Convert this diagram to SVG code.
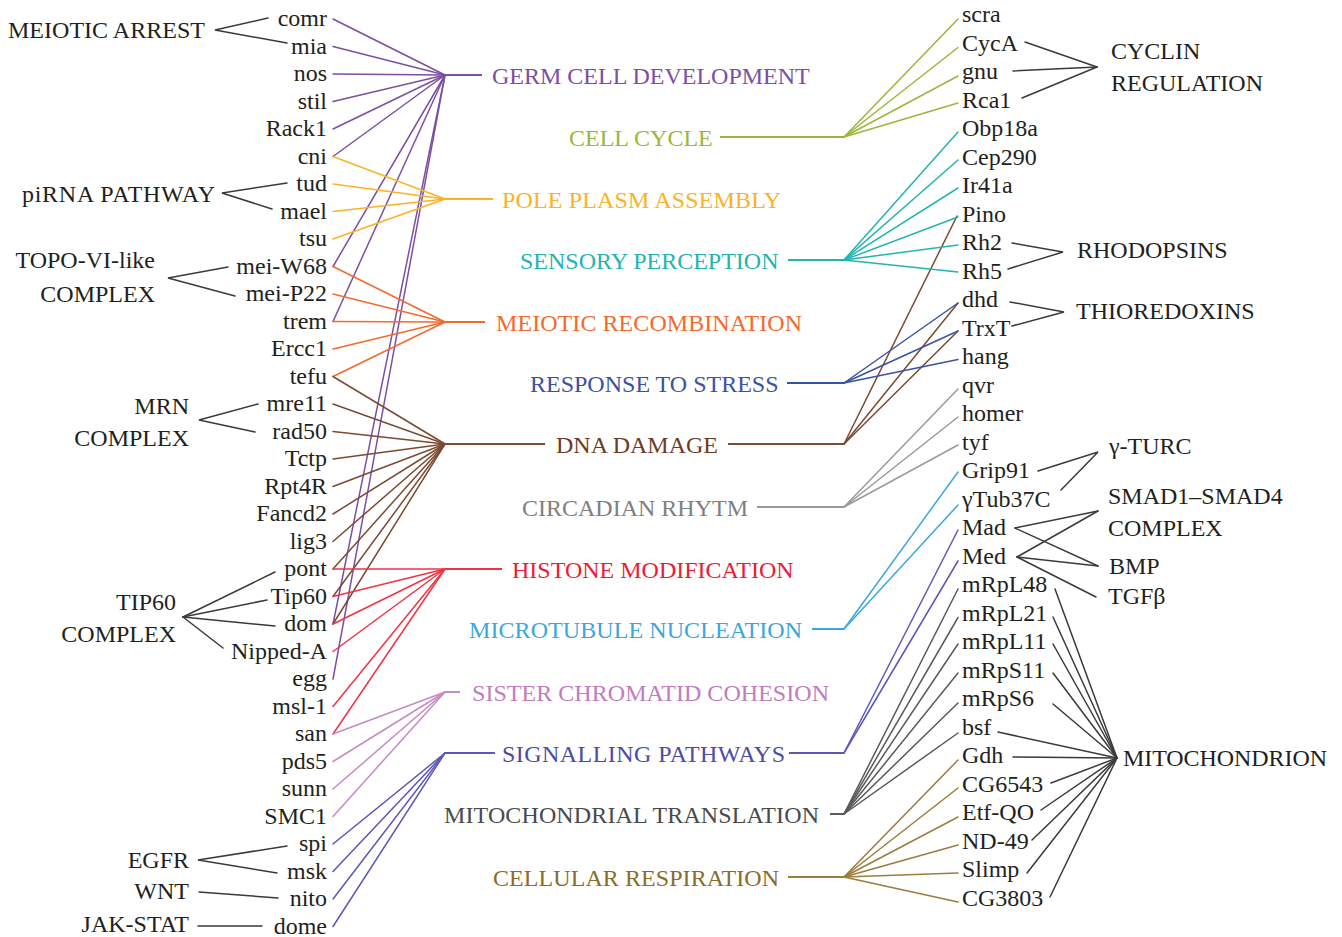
<svg xmlns="http://www.w3.org/2000/svg" width="1342" height="937" viewBox="0 0 1342 937">
<style>
text{font-family:"Liberation Serif","Times New Roman",serif;font-size:24px;fill:#231f20}
.l{fill:none;stroke-width:1.5;stroke-linecap:round}
.h{fill:none;stroke-width:2}
.k{stroke:#3a3a3a}
.gcd{stroke:#7d4ea3}.tgcd{fill:#7d4ea3}
.pol{stroke:#fbb323}.tpol{fill:#fbb323}
.mr{stroke:#f4692c}.tmr{fill:#f4692c}
.dna{stroke:#7b4a32}.tdna{fill:#6e3b23}
.his{stroke:#f03344}.this{fill:#ed1c33}
.scc{stroke:#c48bc4}.tscc{fill:#c07cbe}
.sig{stroke:#5b58b8}.tsig{fill:#4d4ba6}
.cc{stroke:#9ab73b}.tcc{fill:#9ab73b}
.sen{stroke:#23b4b0}.tsen{fill:#23b4b0}
.str{stroke:#3953a4}.tstr{fill:#3953a4}
.cir{stroke:#9a9a9a}.tcir{fill:#808080}
.mic{stroke:#3ba6df}.tmic{fill:#3ba6df}
.mit{stroke:#5a5a5a}.tmit{fill:#4a4a4a}
.res{stroke:#9b7d3c}.tres{fill:#8c6c27}
</style>
<g id="connectors">
<g class="l gcd">
<line x1="333" y1="19" x2="445" y2="75"/><line x1="333" y1="46.5" x2="445" y2="75"/><line x1="333" y1="74" x2="445" y2="75"/><line x1="333" y1="101.5" x2="445" y2="75"/><line x1="333" y1="129" x2="445" y2="75"/><line x1="333" y1="156.5" x2="445" y2="75"/><line x1="333" y1="266.5" x2="445" y2="75"/><line x1="333" y1="321.5" x2="445" y2="75"/><line x1="333" y1="624" x2="445" y2="75"/><line x1="333" y1="679" x2="445" y2="75"/>
</g>
<line class="h gcd" x1="445" y1="75" x2="482" y2="75"/>
<g class="l pol">
<line x1="333" y1="156.5" x2="445" y2="199"/><line x1="333" y1="184" x2="445" y2="199"/><line x1="333" y1="211.5" x2="445" y2="199"/><line x1="333" y1="239" x2="445" y2="199"/>
</g>
<line class="h pol" x1="445" y1="199" x2="493" y2="199"/>
<g class="l mr">
<line x1="333" y1="266.5" x2="445" y2="322"/><line x1="333" y1="294" x2="445" y2="322"/><line x1="333" y1="321.5" x2="445" y2="322"/><line x1="333" y1="349" x2="445" y2="322"/><line x1="333" y1="376.5" x2="445" y2="322"/>
</g>
<line class="h mr" x1="445" y1="322" x2="485" y2="322"/>
<g class="l dna">
<line x1="333" y1="376.5" x2="445" y2="444"/><line x1="333" y1="404" x2="445" y2="444"/><line x1="333" y1="431.5" x2="445" y2="444"/><line x1="333" y1="459" x2="445" y2="444"/><line x1="333" y1="486.5" x2="445" y2="444"/><line x1="333" y1="514" x2="445" y2="444"/><line x1="333" y1="541.5" x2="445" y2="444"/><line x1="333" y1="569" x2="445" y2="444"/><line x1="333" y1="596.5" x2="445" y2="444"/><line x1="333" y1="624" x2="445" y2="444"/>
<line x1="844" y1="444" x2="957" y2="216"/><line x1="844" y1="444" x2="958" y2="303"/><line x1="844" y1="444" x2="958" y2="331"/>
</g>
<line class="h dna" x1="445" y1="444" x2="545" y2="444"/>
<line class="h dna" x1="728" y1="444" x2="844" y2="444"/>
<g class="l his">
<line x1="333" y1="569" x2="445" y2="569"/><line x1="333" y1="596.5" x2="445" y2="569"/><line x1="333" y1="624" x2="445" y2="569"/><line x1="333" y1="651.5" x2="445" y2="569"/><line x1="333" y1="706.5" x2="445" y2="569"/><line x1="333" y1="734" x2="445" y2="569"/>
</g>
<line class="h his" x1="445" y1="569" x2="502" y2="569"/>
<g class="l scc">
<line x1="333" y1="734" x2="445" y2="692"/><line x1="333" y1="761.5" x2="445" y2="692"/><line x1="333" y1="789" x2="445" y2="692"/><line x1="333" y1="816.5" x2="445" y2="692"/>
</g>
<line class="h scc" x1="445" y1="692" x2="460" y2="692"/>
<g class="l sig">
<line x1="333" y1="844" x2="445" y2="753"/><line x1="333" y1="871.5" x2="445" y2="753"/><line x1="333" y1="899" x2="445" y2="753"/><line x1="333" y1="926.5" x2="445" y2="753"/>
<line x1="844" y1="753" x2="958" y2="530"/><line x1="844" y1="753" x2="958" y2="561"/>
</g>
<line class="h sig" x1="445" y1="753" x2="495" y2="753"/>
<line class="h sig" x1="789" y1="753" x2="844" y2="753"/>
<g class="l cc">
<line x1="844" y1="137" x2="958" y2="19"/><line x1="844" y1="137" x2="958" y2="47.5"/><line x1="844" y1="137" x2="958" y2="76"/><line x1="844" y1="137" x2="958" y2="103"/>
</g>
<line class="h cc" x1="720" y1="137" x2="844" y2="137"/>
<g class="l sen">
<line x1="844" y1="260" x2="958" y2="132"/><line x1="844" y1="260" x2="958" y2="160"/><line x1="844" y1="260" x2="958" y2="188"/><line x1="844" y1="260" x2="958" y2="217"/><line x1="844" y1="260" x2="958" y2="245"/><line x1="844" y1="260" x2="958" y2="272"/>
</g>
<line class="h sen" x1="788" y1="260" x2="844" y2="260"/>
<g class="l str">
<line x1="844" y1="383" x2="958" y2="303"/><line x1="844" y1="383" x2="958" y2="331"/><line x1="844" y1="383" x2="958" y2="359.5"/>
</g>
<line class="h str" x1="787" y1="383" x2="844" y2="383"/>
<g class="l cir">
<line x1="844" y1="507" x2="958" y2="389"/><line x1="844" y1="507" x2="958" y2="417"/><line x1="844" y1="507" x2="958" y2="445"/>
</g>
<line class="h cir" x1="757" y1="507" x2="844" y2="507"/>
<g class="l mic">
<line x1="844" y1="629" x2="958" y2="472"/><line x1="844" y1="629" x2="958" y2="505"/>
</g>
<line class="h mic" x1="812" y1="629" x2="844" y2="629"/>
<g class="l mit">
<line x1="844" y1="814" x2="958" y2="589"/><line x1="844" y1="814" x2="958" y2="617.5"/><line x1="844" y1="814" x2="958" y2="644"/><line x1="844" y1="814" x2="958" y2="673"/><line x1="844" y1="814" x2="958" y2="703"/><line x1="844" y1="814" x2="958" y2="733"/>
</g>
<line class="h mit" x1="830" y1="814" x2="844" y2="814"/>
<g class="l res">
<line x1="844" y1="877" x2="958" y2="760"/><line x1="844" y1="877" x2="958" y2="788"/><line x1="844" y1="877" x2="958" y2="817"/><line x1="844" y1="877" x2="958" y2="845"/><line x1="844" y1="877" x2="958" y2="873"/><line x1="844" y1="877" x2="958" y2="902"/>
</g>
<line class="h res" x1="788" y1="877" x2="844" y2="877"/>
<g class="l k">
<polyline points="268,18 215,30 287,43"/>
<polyline points="287,183 222,193 272,209"/>
<polyline points="228,267 168,278 235,296"/>
<polyline points="258,404 199,420 255,432"/>
<line x1="183" y1="617" x2="275" y2="572"/><line x1="183" y1="617" x2="267" y2="600"/><line x1="183" y1="617" x2="275" y2="626"/><line x1="183" y1="617" x2="223" y2="648"/>
<polyline points="287,846 198,860 277,873"/>
<line x1="199" y1="892" x2="278" y2="898"/>
<line x1="198" y1="926" x2="262" y2="926"/>
<line x1="1025" y1="42" x2="1097" y2="67"/><line x1="1013" y1="71" x2="1097" y2="67"/><line x1="1022" y1="98" x2="1097" y2="67"/>
<polyline points="1012,243 1063,252 1008,269"/>
<polyline points="1010,302 1064,312 1012,326"/>
<polyline points="1038,471 1098,452 1061,490"/>
<line x1="1015" y1="528" x2="1098" y2="511"/><line x1="1015" y1="528" x2="1098" y2="566"/>
<line x1="1017" y1="557" x2="1098" y2="511"/><line x1="1017" y1="557" x2="1098" y2="566"/><line x1="1017" y1="557" x2="1096" y2="597"/>
<line x1="1055" y1="589" x2="1117" y2="758"/><line x1="1053" y1="617" x2="1117" y2="758"/><line x1="1053" y1="644" x2="1117" y2="758"/><line x1="1053" y1="673" x2="1117" y2="758"/><line x1="1053" y1="704" x2="1117" y2="758"/><line x1="998" y1="732" x2="1117" y2="758"/><line x1="1013" y1="757" x2="1117" y2="758"/><line x1="1051" y1="783" x2="1117" y2="758"/><line x1="1041" y1="810" x2="1117" y2="758"/><line x1="1032" y1="840" x2="1117" y2="758"/><line x1="1027" y1="873" x2="1117" y2="758"/><line x1="1050" y1="897" x2="1117" y2="758"/>
</g>
</g>
<g id="cat-germ-cell-development"><text class="tgcd" x="492" y="84">GERM CELL DEVELOPMENT</text></g>
<g id="cat-cell-cycle"><text class="tcc" x="569" y="146">CELL CYCLE</text></g>
<g id="cat-pole-plasm"><text class="tpol" x="502" y="208" textLength="279">POLE PLASM ASSEMBLY</text></g>
<g id="cat-sensory"><text class="tsen" x="520" y="269">SENSORY PERCEPTION</text></g>
<g id="cat-meiotic-recombination"><text class="tmr" x="496" y="331" textLength="306">MEIOTIC RECOMBINATION</text></g>
<g id="cat-stress"><text class="tstr" x="530" y="392">RESPONSE TO STRESS</text></g>
<g id="cat-dna-damage"><text class="tdna" x="556" y="453">DNA DAMAGE</text></g>
<g id="cat-circadian"><text class="tcir" x="522" y="516">CIRCADIAN RHYTM</text></g>
<g id="cat-histone"><text class="this" x="512" y="578">HISTONE MODIFICATION</text></g>
<g id="cat-microtubule"><text class="tmic" x="469" y="638" textLength="333">MICROTUBULE NUCLEATION</text></g>
<g id="cat-cohesion"><text class="tscc" x="472" y="701" textLength="357">SISTER CHROMATID COHESION</text></g>
<g id="cat-signalling"><text class="tsig" x="502" y="762" textLength="283">SIGNALLING PATHWAYS</text></g>
<g id="cat-mito-translation"><text class="tmit" x="444" y="823" textLength="375">MITOCHONDRIAL TRANSLATION</text></g>
<g id="cat-respiration"><text class="tres" x="493" y="886" textLength="286">CELLULAR RESPIRATION</text></g>
<g id="left-genes" text-anchor="end">
<g id="g-comr"><text x="327" y="26">comr</text></g>
<g id="g-mia"><text x="327" y="53.5">mia</text></g>
<g id="g-nos"><text x="327" y="81">nos</text></g>
<g id="g-stil"><text x="327" y="108.5">stil</text></g>
<g id="g-Rack1"><text x="327" y="136">Rack1</text></g>
<g id="g-cni"><text x="327" y="163.5">cni</text></g>
<g id="g-tud"><text x="327" y="191">tud</text></g>
<g id="g-mael"><text x="327" y="218.5">mael</text></g>
<g id="g-tsu"><text x="327" y="246">tsu</text></g>
<g id="g-mei-W68"><text x="327" y="273.5">mei-W68</text></g>
<g id="g-mei-P22"><text x="327" y="301">mei-P22</text></g>
<g id="g-trem"><text x="327" y="328.5">trem</text></g>
<g id="g-Ercc1"><text x="327" y="356">Ercc1</text></g>
<g id="g-tefu"><text x="327" y="383.5">tefu</text></g>
<g id="g-mre11"><text x="327" y="411">mre11</text></g>
<g id="g-rad50"><text x="327" y="438.5">rad50</text></g>
<g id="g-Tctp"><text x="327" y="466">Tctp</text></g>
<g id="g-Rpt4R"><text x="327" y="493.5">Rpt4R</text></g>
<g id="g-Fancd2"><text x="327" y="521">Fancd2</text></g>
<g id="g-lig3"><text x="327" y="548.5">lig3</text></g>
<g id="g-pont"><text x="327" y="576">pont</text></g>
<g id="g-Tip60"><text x="327" y="603.5">Tip60</text></g>
<g id="g-dom"><text x="327" y="631">dom</text></g>
<g id="g-Nipped-A"><text x="327" y="658.5">Nipped-A</text></g>
<g id="g-egg"><text x="327" y="686">egg</text></g>
<g id="g-msl-1"><text x="327" y="713.5">msl-1</text></g>
<g id="g-san"><text x="327" y="741">san</text></g>
<g id="g-pds5"><text x="327" y="768.5">pds5</text></g>
<g id="g-sunn"><text x="327" y="796">sunn</text></g>
<g id="g-SMC1"><text x="327" y="823.5">SMC1</text></g>
<g id="g-spi"><text x="327" y="851">spi</text></g>
<g id="g-msk"><text x="327" y="878.5">msk</text></g>
<g id="g-nito"><text x="327" y="906">nito</text></g>
<g id="g-dome"><text x="327" y="933.5">dome</text></g>
</g>
<g id="right-genes">
<g id="g-scra"><text x="962" y="22">scra</text></g>
<g id="g-CycA"><text x="962" y="50.5">CycA</text></g>
<g id="g-gnu"><text x="962" y="79">gnu</text></g>
<g id="g-Rca1"><text x="962" y="107.5">Rca1</text></g>
<g id="g-Obp18a"><text x="962" y="136">Obp18a</text></g>
<g id="g-Cep290"><text x="962" y="164.5">Cep290</text></g>
<g id="g-Ir41a"><text x="962" y="193">Ir41a</text></g>
<g id="g-Pino"><text x="962" y="221.5">Pino</text></g>
<g id="g-Rh2"><text x="962" y="250">Rh2</text></g>
<g id="g-Rh5"><text x="962" y="278.5">Rh5</text></g>
<g id="g-dhd"><text x="962" y="307">dhd</text></g>
<g id="g-TrxT"><text x="962" y="335.5">TrxT</text></g>
<g id="g-hang"><text x="962" y="364">hang</text></g>
<g id="g-qvr"><text x="962" y="392.5">qvr</text></g>
<g id="g-homer"><text x="962" y="421">homer</text></g>
<g id="g-tyf"><text x="962" y="449.5">tyf</text></g>
<g id="g-Grip91"><text x="962" y="478">Grip91</text></g>
<g id="g-gTub37C"><text x="962" y="506.5">γTub37C</text></g>
<g id="g-Mad"><text x="962" y="535">Mad</text></g>
<g id="g-Med"><text x="962" y="563.5">Med</text></g>
<g id="g-mRpL48"><text x="962" y="592">mRpL48</text></g>
<g id="g-mRpL21"><text x="962" y="620.5">mRpL21</text></g>
<g id="g-mRpL11"><text x="962" y="649">mRpL11</text></g>
<g id="g-mRpS11"><text x="962" y="677.5">mRpS11</text></g>
<g id="g-mRpS6"><text x="962" y="706">mRpS6</text></g>
<g id="g-bsf"><text x="962" y="734.5">bsf</text></g>
<g id="g-Gdh"><text x="962" y="763">Gdh</text></g>
<g id="g-CG6543"><text x="962" y="791.5">CG6543</text></g>
<g id="g-Etf-QO"><text x="962" y="820">Etf-QO</text></g>
<g id="g-ND-49"><text x="962" y="848.5">ND-49</text></g>
<g id="g-Slimp"><text x="962" y="877">Slimp</text></g>
<g id="g-CG3803"><text x="962" y="905.5">CG3803</text></g>
</g>
<g id="ann-meiotic-arrest"><text x="8" y="38" textLength="197">MEIOTIC ARREST</text></g>
<g id="ann-pirna"><text x="22" y="202" textLength="193">piRNA PATHWAY</text></g>
<g id="ann-topo" text-anchor="end"><text x="155" y="268">TOPO-VI-like</text><text x="155" y="302">COMPLEX</text></g>
<g id="ann-mrn" text-anchor="end"><text x="189" y="414">MRN</text><text x="189" y="446">COMPLEX</text></g>
<g id="ann-tip60" text-anchor="end"><text x="176" y="610">TIP60</text><text x="176" y="642">COMPLEX</text></g>
<g id="ann-egfr"><text x="189" y="868" text-anchor="end">EGFR</text></g>
<g id="ann-wnt"><text x="189" y="899" text-anchor="end">WNT</text></g>
<g id="ann-jakstat"><text x="189" y="932" text-anchor="end">JAK-STAT</text></g>
<g id="ann-cyclin"><text x="1111" y="59">CYCLIN</text><text x="1111" y="91">REGULATION</text></g>
<g id="ann-rhodopsins"><text x="1077" y="258">RHODOPSINS</text></g>
<g id="ann-thioredoxins"><text x="1076" y="319">THIOREDOXINS</text></g>
<g id="ann-gturc"><text x="1109" y="454">γ-TURC</text></g>
<g id="ann-smad"><text x="1108" y="504">SMAD1–SMAD4</text><text x="1108" y="536">COMPLEX</text></g>
<g id="ann-bmp"><text x="1109" y="574">BMP</text></g>
<g id="ann-tgfb"><text x="1108" y="604">TGFβ</text></g>
<g id="ann-mitochondrion"><text x="1123" y="766" textLength="204">MITOCHONDRION</text></g>
</svg>
